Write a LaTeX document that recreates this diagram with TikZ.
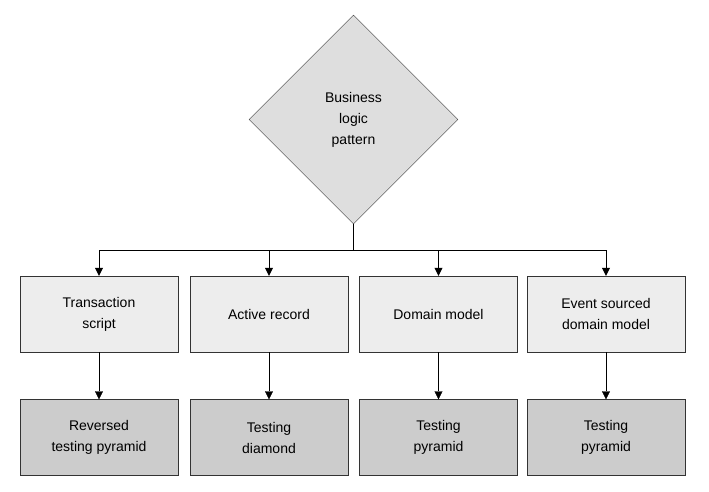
\documentclass[tikz,border=0pt]{standalone}
\usepackage{fontspec}
\setmainfont{Liberation Sans}
\usetikzlibrary{arrows.meta,shapes.geometric}
\newcommand{\labelfont}{\fontsize{14}{21}\selectfont}
\tikzstyle{decision}=[diamond,draw=black!80,fill=black!13,minimum width=209pt,minimum height=209pt,inner sep=0pt,align=center,font=\labelfont]
\tikzstyle{pattern}=[rectangle,draw=black!80,fill=black!7,minimum width=158pt,minimum height=76pt,inner sep=2pt,align=center,font=\labelfont]
\tikzstyle{result}=[pattern,fill=black!20]
\tikzstyle{edge}=[draw,-{Triangle[length=8pt,width=8pt]}]

\begin{document}
\begin{tikzpicture}[x=1pt,y=-1pt]
    \useasboundingbox (0,0) rectangle (709,492);
    % First we draw the vertices
    \node[decision] (blp) at (353.5,119.5) {Business\\logic\\pattern};
    \foreach \pos/\name/\txt/\res in {{99/ts/Transaction\\script/Reversed\\testing pyramid}, {269/ar/Active record/Testing\\diamond}, {438.5/dm/Domain model/Testing\\pyramid}, {606/es/Event sourced\\domain model/Testing\\pyramid}}
    {
        \node[pattern] (\name) at (\pos,314) {\txt};
        \node[result] (\name r) at (\pos,437.5) {\res};
    }
    \coordinate (bus) at (353.5,250);

    % Connect vertices with edges
    \draw (blp.south) -- (bus);
    \foreach \dest in {ts,ar,dm,es}
    {
        \path[edge] (bus) -| (\dest.north);
        \path[edge] (\dest) -- (\dest r);
    }
\end{tikzpicture}
\end{document}
